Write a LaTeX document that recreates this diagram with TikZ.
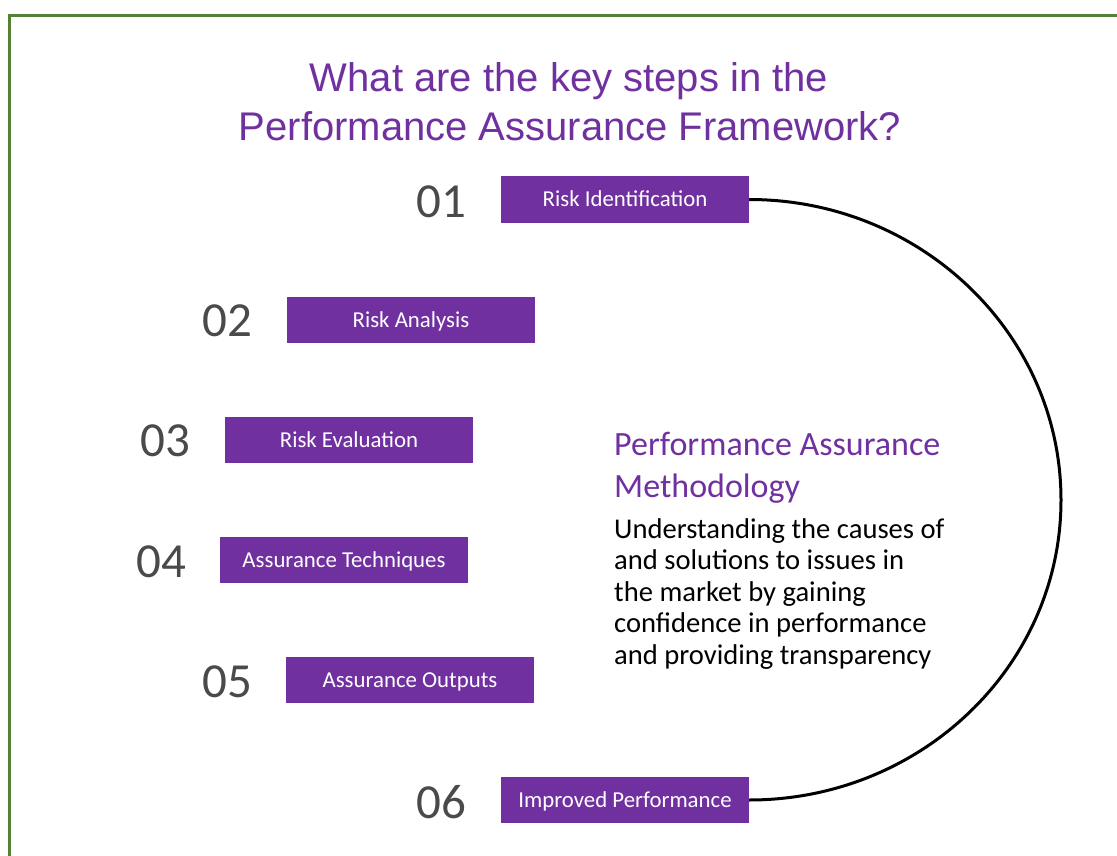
\documentclass[tikz,border=0pt]{standalone}
\usepackage{fontspec}
\setmainfont{Carlito}
\newfontfamily\titlefont{Liberation Sans}
\definecolor{purp}{HTML}{7030A0}
\definecolor{framegreen}{HTML}{548235}
\definecolor{numgray}{HTML}{4A4A4A}
\begin{document}
\begin{tikzpicture}[x=1pt,y=-1pt,
  stepbox/.style={fill=purp, minimum width=248pt, minimum height=46pt, inner sep=0pt, text=white, text height=14.7pt, text depth=0pt, font=\fontsize{22.8}{26}\selectfont},
  num/.style={text=numgray, font=\fontsize{49}{52}\selectfont, inner sep=0pt},
  ttl/.style={text=purp, font=\titlefont\fontsize{40}{48}\selectfont, inner sep=0pt, anchor=base},
  head/.style={text=purp, font=\fontsize{34}{40}\selectfont, inner sep=0pt, anchor=base west},
  body/.style={text=black, font=\fontsize{28.6}{32}\selectfont, inner sep=0pt, anchor=base west}]
\useasboundingbox (0,0) rectangle (1117,856);
\fill[white] (0,0) rectangle (1117,856);
\draw[framegreen, line width=3pt] (9.5,856) -- (9.5,15.5) -- (1117,15.5);

\node[ttl] (title1) at (569,92) {What are the key steps in the};
\node[ttl] (title2) at (570,141) {Performance Assurance Framework?};

\node[stepbox] (s1) at (625,199.5) {Risk Identification};
\node[stepbox] (s2) at (411,320) {Risk Analysis};
\node[stepbox] (s3) at (349,440) {Risk Evaluation};
\node[stepbox] (s4) at (344,560) {Assurance Techniques};
\node[stepbox] (s5) at (410,680) {Assurance Outputs};
\node[stepbox] (s6) at (625,800) {Improved Performance};

\node[num] (n1) at (441,202) {01};
\node[num] (n2) at (227,321) {02};
\node[num] (n3) at (165,441) {03};
\node[num] (n4) at (161,562) {04};
\node[num] (n5) at (227,682) {05};
\node[num] (n6) at (441,802) {06};

\node[head] (h1) at (614,455) {Performance Assurance};
\node[head] (h2) at (614,497) {Methodology};
\node[body] (b1) at (614,538) {Understanding the causes of};
\node[body] (b2) at (614,569.5) {and solutions to issues in};
\node[body] (b3) at (614,601) {the market by gaining};
\node[body] (b4) at (614,632.5) {confidence in performance};
\node[body] (b5) at (614,664) {and providing transparency};

\coordinate (rt) at (1061,500);
\draw[line width=3pt] (s1.east) .. controls (921,199.5) and (1061,334) .. (rt)
  .. controls (1061,666) and (921,800) .. (s6.east);
\end{tikzpicture}
\end{document}
